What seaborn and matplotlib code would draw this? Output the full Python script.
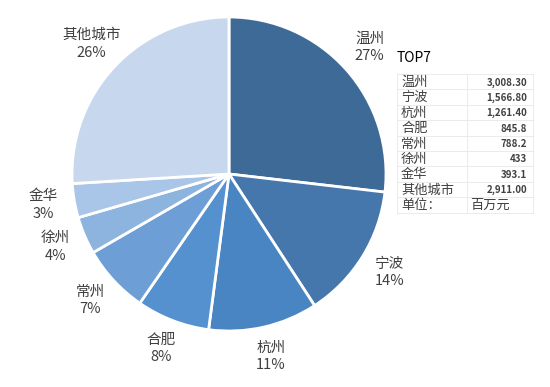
import numpy as np
import matplotlib.pyplot as plt
import seaborn as sns

# data (unit: 百万元)
cities = ['温州', '宁波', '杭州', '合肥', '常州', '徐州', '金华', '其他城市']
values = [3008.30, 1566.80, 1261.40, 845.8, 788.2, 433, 393.1, 2911.00]
pct_labels = ['27%', '14%', '11%', '8%', '7%', '4%', '3%', '26%']
table_text = ['3,008.30', '1,566.80', '1,261.40', '845.8', '788.2', '433', '393.1', '2,911.00']
colors = ['#3e6a98', '#4577ad', '#4a85c3', '#5591cf', '#6d9fd6', '#8db3df', '#a9c5e7', '#c7d8ee']

sns.set_theme(style='white')
plt.rcParams['font.family'] = ['Noto Sans CJK SC', 'DejaVu Sans']

fig = plt.figure(figsize=(5.5, 3.87), dpi=100)
ax = fig.add_axes([0, 0, 1, 1])

cx, cy, r = 229, 387 - 174, 157
wedges, _ = ax.pie(values, colors=sns.color_palette(colors), startangle=90, counterclock=False,
                   center=(cx, cy), radius=r, frame=True,
                   wedgeprops=dict(edgecolor='white', linewidth=2))
ax.set_xlim(0, 550)
ax.set_ylim(0, 387)
ax.set_aspect('equal')
ax.axis('off')

# labels: city name + percentage, centred outside each wedge
for w, name, pct in zip(wedges, cities, pct_labels):
    mid = np.deg2rad((w.theta1 + w.theta2) / 2)
    d = r * 1.2
    x = cx + d * np.cos(mid)
    y = cy + d * np.sin(mid)
    ax.text(x, y + 1, name + '\n' + pct, ha='center', va='center', fontsize=10.5,
            color='#404040', linespacing=1.3)

# side table
ax.text(397, 387 - 58, 'TOP7', ha='left', va='center', fontsize=10, color='black')
row_h = 15.4
top = 387 - 74
rows = list(zip(cities, table_text)) + [('单位：', '百万元')]
for i, (name, txt) in enumerate(rows):
    y = top - row_h * (i + 0.55)
    ax.text(401, y, name, ha='left', va='center', fontsize=9.5, color='#404040')
    if i < len(cities):
        ax.text(527, y, txt, ha='right', va='center', fontsize=7, color='#404040', fontweight='bold')
    else:
        ax.text(470, y, txt, ha='left', va='center', fontsize=9.5, color='#404040')
for i in range(len(rows) + 1):
    y = top - row_h * i
    ax.plot([397, 533], [y, y], color='#e8e8e8', lw=0.6)
for x in [397, 467, 533]:
    ax.plot([x, x], [top, top - row_h * len(rows)], color='#e8e8e8', lw=0.6)

fig.savefig('out.png', dpi=100)
